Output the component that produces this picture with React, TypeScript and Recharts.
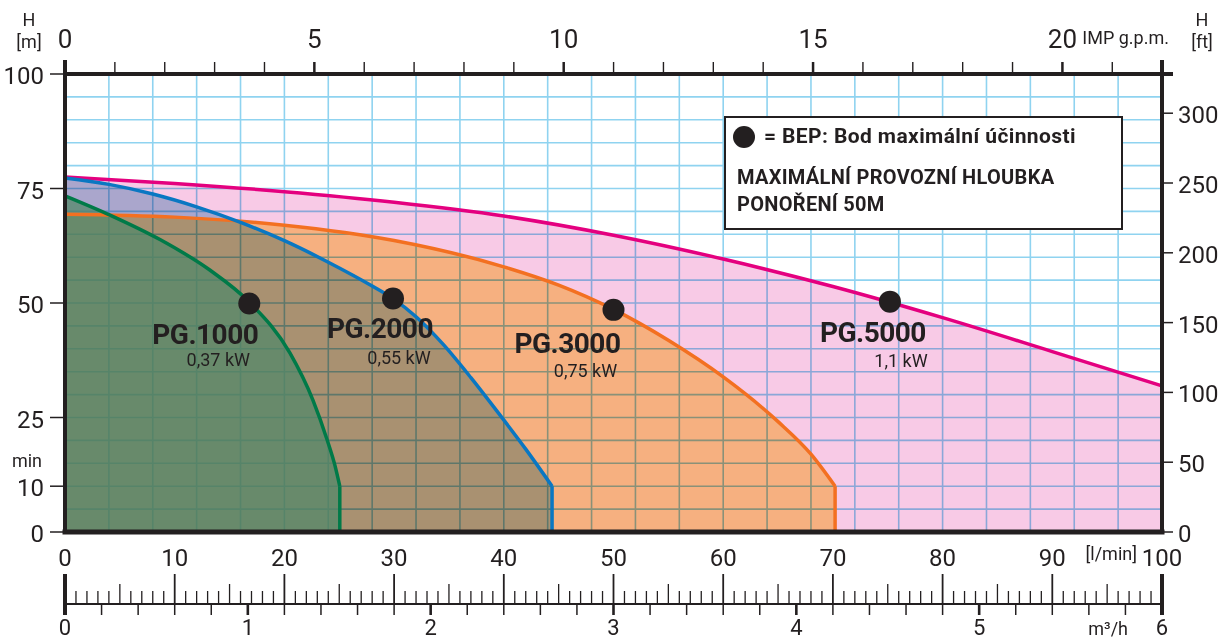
import React from "react";
import {
  ComposedChart,
  Area,
  Line,
  Scatter,
  XAxis,
  YAxis,
  CartesianGrid,
  Legend,
} from "recharts";

// pump names and motor power
const pumps = ["PG.1000", "PG.2000", "PG.3000", "PG.5000"];
const powers = ["0,37 kW", "0,55 kW", "0,75 kW", "1,1 kW"];

// Q [l/min] / H [m] (down to the 10 m minimum level)
const pg1000Q = [0, 4.1, 8.7, 13.2, 16.8, 20.5, 22.6, 23.9, 24.6, 25.05];
const pg1000H = [73.4, 69.2, 63.8, 57.2, 50.2, 39.1, 28.8, 20.1, 14.6, 10];

const pg2000Q = [0, 4, 8, 12, 16, 20, 24, 28, 30, 32, 34.5, 37, 39.5, 42, 44.4];
const pg2000H = [77.3, 75.9, 73.8, 71.0, 67.6, 63.6, 58.9, 53.7, 50.8, 47.0, 40.9, 33.7, 26.0, 18.1, 10];

const pg3000Q = [0, 10, 20, 30, 40, 45, 50, 55, 60, 65, 68, 70.2];
const pg3000H = [69.4, 68.75, 67.0, 63.65, 57.9, 53.9, 48.6, 41.85, 33.85, 24.1, 17.0, 10];

const pg5000Q = [0, 10, 20, 30, 40, 50, 60, 70, 80, 90, 100];
const pg5000H = [77.5, 76.1, 74.3, 72.0, 69.0, 64.8, 59.6, 53.6, 46.8, 39.4, 31.9];

// best efficiency points
const bepQ = [16.8, 29.9, 50.0, 75.2];
const bepH = [49.9, 51.0, 48.5, 50.3];

// axis ticks
const lpmTicks = [0, 10, 20, 30, 40, 50, 60, 70, 80, 90, 100];
const mTicks = [0, 10, 25, 50, 75, 100];
const ftTicks = [0, 50, 100, 150, 200, 250, 300];
const gridQ = [4, 8, 12, 16, 20, 24, 28, 32, 36, 40, 44, 48, 52, 56, 60, 64, 68, 72, 76, 80, 84, 88, 92, 96];
const gridH = [5, 10, 15, 20, 25, 30, 35, 40, 45, 50, 55, 60, 65, 70, 75, 80, 85, 90, 95];

const L_PER_GPM = 4.54609;
const GPM_MAX = 100 / L_PER_GPM;
const FT_MAX = 100 * 3.28084;
const gpmTicks = [...Array.from({ length: 22 }, (_, i) => i), GPM_MAX];

// ruler below: one tick per l/min above the line, one per 0.2 m3/h below it
const rulerTicks = (() => {
  const seen = new Map<number, number>();
  for (let l = 0; l <= 100; l++) seen.set(Math.round(l * 600), (l * 6) / 100);
  for (let k = 0; k <= 30; k++) {
    const key = Math.round(k * 2000);
    if (!seen.has(key)) seen.set(key, (k * 6) / 30);
  }
  return [...seen.values()].sort((a, b) => a - b);
})();

const zip = (q: number[], h: number[]) => q.map((v, i) => ({ q: v, h: h[i] }));
const pg1000 = zip(pg1000Q, pg1000H);
const pg2000 = zip(pg2000Q, pg2000H);
const pg3000 = zip(pg3000Q, pg3000H);
const pg5000 = zip(pg5000Q, pg5000H);
// vertical drop from the last point of each curve to H = 0
const drop = (d: { q: number; h: number }[]) => {
  const last = d[d.length - 1];
  return [last, { q: last.q, h: 0 }];
};
const bep = bepQ.map((q, i) => ({ q, h: bepH[i], name: pumps[i], power: powers[i] }));

const INK = "#231f20";
const FONT = "Roboto, 'DejaVu Sans', sans-serif";

const series = [
  { data: pg5000, fill: "#f8cae6", stroke: "#e4007f", mix: true },
  { data: pg3000, fill: "#fdde8e", stroke: "#f37021", mix: true },
  { data: pg2000, fill: "#afd2e2", stroke: "#0a77c2", mix: true },
  { data: pg1000, fill: "#53886a", stroke: "#007a48", mix: false },
];

// label placement relative to each BEP dot
const nameOffset = [[-44, 31], [-13, 30], [-46, 34], [-17, 31]];
const powerOffset = [[-31, 56], [6, 59], [-28, 61], [11, 59]];

const TopTick = (p: any) => {
  const { x, y, payload } = p;
  const v = payload.value;
  if (v > 21.5) {
    return (
      <g>
        <line x1={x} x2={x} y1={y - 14} y2={y} stroke={INK} strokeWidth={4} />
        <line x1={x} x2={x + 11} y1={y} y2={y} stroke={INK} strokeWidth={4} />
      </g>
    );
  }
  const major = v % 5 === 0;
  return (
    <g>
      <line
        x1={x}
        x2={x}
        y1={v === 0 ? y - 14 : y - 12}
        y2={y}
        stroke={INK}
        strokeWidth={v === 0 ? 4 : major ? 2.5 : 1.4}
      />
      {major && (
        <text x={x} y={y - 35} textAnchor="middle" dominantBaseline="central" fontSize={26} fill={INK}>
          {v}
        </text>
      )}
    </g>
  );
};

const LeftTick = (p: any) => {
  const { x, y, payload } = p;
  const v = payload.value;
  return (
    <g>
      <line x1={x - 15} x2={x - 2} y1={y} y2={y} stroke={INK} strokeWidth={1.5} />
      <text x={x - 21} y={y + 2} textAnchor="end" dominantBaseline="central" fontSize={24} fill={INK}>
        {v}
      </text>
      {v === 10 && (
        <text x={x - 38} y={y - 26} textAnchor="middle" dominantBaseline="central" fontSize={18} fill={INK}>
          min
        </text>
      )}
    </g>
  );
};

const RightTick = (p: any) => {
  const { x, y, payload } = p;
  return (
    <g>
      <line x1={x} x2={x + 11} y1={y} y2={y} stroke={INK} strokeWidth={1.5} />
      <text x={x + 16} y={y + 2} textAnchor="start" dominantBaseline="central" fontSize={24} fill={INK}>
        {payload.value}
      </text>
    </g>
  );
};

const LpmTick = (p: any) => {
  const { x, y, payload } = p;
  return (
    <text x={x} y={y + 26} textAnchor="middle" dominantBaseline="central" fontSize={24} fill={INK}>
      {payload.value}
    </text>
  );
};

const RulerTick = (p: any) => {
  const { x, y, payload } = p;
  const v = payload.value;
  const l = (v * 100) / 6;
  const m = v / 0.2;
  const isL = Math.abs(l - Math.round(l)) < 1e-6;
  const isM = Math.abs(m - Math.round(m)) < 1e-6;
  const lr = Math.round(l);
  const mr = Math.round(m);
  const end = isL && (lr === 0 || lr === 100);
  const up = isL ? (lr % 10 === 0 ? 30 : lr % 5 === 0 ? 20 : 13) : 0;
  return (
    <g>
      {isL && (
        <line
          x1={x}
          x2={x}
          y1={y - up}
          y2={y}
          stroke={INK}
          strokeWidth={end ? 4 : lr % 10 === 0 ? 1.8 : 1.3}
        />
      )}
      {(isM || end) && (
        <line
          x1={x}
          x2={x}
          y1={y}
          y2={y + 11}
          stroke={INK}
          strokeWidth={end ? 4 : mr % 5 === 0 ? 2.6 : 1.5}
        />
      )}
      {isM && mr % 5 === 0 && (
        <text x={x} y={y + 23} textAnchor="middle" dominantBaseline="central" fontSize={22} fill={INK}>
          {mr / 5}
        </text>
      )}
    </g>
  );
};

const BepShape = (p: any) => {
  const { cx, cy, payload } = p;
  const i = pumps.indexOf(payload.name);
  return (
    <g>
      <circle cx={cx} cy={cy} r={11} fill={INK} />
      <text
        x={cx + nameOffset[i][0]}
        y={cy + nameOffset[i][1]}
        textAnchor="middle"
        dominantBaseline="central"
        fontSize={28}
        fontWeight={700}
        letterSpacing={-0.5}
        fill={INK}
      >
        {payload.name}
      </text>
      <text
        x={cx + powerOffset[i][0]}
        y={cy + powerOffset[i][1]}
        textAnchor="middle"
        dominantBaseline="central"
        fontSize={18}
        fill={INK}
      >
        {payload.power}
      </text>
    </g>
  );
};

const BepLegend = () => (
  <div
    style={{
      position: "relative",
      width: 399,
      height: 114,
      boxSizing: "border-box",
      border: `2.5px solid ${INK}`,
      background: "#fff",
      color: INK,
      fontWeight: 700,
      fontFamily: FONT,
      whiteSpace: "nowrap",
    }}
  >
    <div
      style={{
        position: "absolute",
        left: 7,
        top: 8,
        width: 22,
        height: 22,
        borderRadius: 11,
        background: INK,
      }}
    />
    <div style={{ position: "absolute", left: 38, top: 6, fontSize: 21, lineHeight: "24px", letterSpacing: 0.4 }}>
      = BEP: Bod maximální účinnosti
    </div>
    <div style={{ position: "absolute", left: 11, top: 47, fontSize: 20, lineHeight: "24px", letterSpacing: 0.3 }}>
      MAXIMÁLNÍ PROVOZNÍ HLOUBKA
    </div>
    <div style={{ position: "absolute", left: 11, top: 74, fontSize: 20, lineHeight: "24px", letterSpacing: 0.3 }}>
      PONOŘENÍ 50M
    </div>
  </div>
);

const unitText = (x: number, y: number, s: string, anchor = "middle") => (
  <text x={x} y={y} textAnchor={anchor} dominantBaseline="central" fontSize={18} fill={INK}>
    {s}
  </text>
);

export default function App() {
  const common = { xAxisId: "lpm", yAxisId: "m", isAnimationActive: false };
  return (
    <div
      style={{
        position: "absolute",
        left: 0,
        top: 0,
        width: 1226,
        height: 640,
        background: "#fff",
        fontFamily: FONT,
      }}
    >
      <style>{`.mix, .mix .recharts-area-area { mix-blend-mode: multiply; }`}</style>
      <ComposedChart
        width={1226}
        height={640}
        data={pg5000}
        margin={{ top: 0, right: 0, bottom: 0, left: 0 }}
      >
        <XAxis
          xAxisId="gpm"
          orientation="top"
          type="number"
          dataKey={(d: any) => d.q / L_PER_GPM}
          domain={[0, GPM_MAX]}
          allowDataOverflow
          ticks={gpmTicks}
          interval={0}
          height={74}
          tickSize={0}
          tickMargin={0}
          tickLine={false}
          tick={TopTick}
          axisLine={{ stroke: INK, strokeWidth: 4, strokeLinecap: "square" }}
          label={(p: any) =>
            unitText(p.viewBox.x + p.viewBox.width + 7, 37, "IMP g.p.m.", "end")
          }
        />
        <XAxis
          xAxisId="lpm"
          dataKey="q"
          type="number"
          domain={[0, 100]}
          ticks={lpmTicks}
          interval={0}
          height={72}
          tickSize={0}
          tickMargin={0}
          tickLine={false}
          tick={LpmTick}
          axisLine={{ stroke: INK, strokeWidth: 5, strokeLinecap: "square" }}
          label={(p: any) =>
            unitText(p.viewBox.x + p.viewBox.width - 25, p.viewBox.y + 21, "[l/min]", "end")
          }
        />
        <XAxis
          xAxisId="m3h"
          type="number"
          dataKey={(d: any) => (d.q * 6) / 100}
          domain={[0, 6]}
          allowDataOverflow
          ticks={rulerTicks}
          interval={0}
          height={36}
          tickSize={0}
          tickMargin={0}
          tickLine={false}
          tick={RulerTick}
          axisLine={{ stroke: INK, strokeWidth: 2 }}
          label={(p: any) =>
            unitText(p.viewBox.x + p.viewBox.width - 34, p.viewBox.y + 24, "m³/h", "end")
          }
        />
        <YAxis
          yAxisId="m"
          orientation="left"
          type="number"
          domain={[0, 100]}
          ticks={mTicks}
          interval={0}
          width={65}
          tickSize={0}
          tickMargin={0}
          tickLine={false}
          tick={LeftTick}
          axisLine={{ stroke: INK, strokeWidth: 4, strokeLinecap: "square" }}
          label={(p: any) => (
            <g>
              {unitText(p.viewBox.x + 29, p.viewBox.y - 55, "H")}
              {unitText(p.viewBox.x + 29, p.viewBox.y - 33, "[m]")}
            </g>
          )}
        />
        <YAxis
          yAxisId="ft"
          orientation="right"
          type="number"
          domain={[0, FT_MAX]}
          allowDataOverflow
          ticks={ftTicks}
          interval={0}
          width={64}
          tickSize={0}
          tickMargin={0}
          tickLine={false}
          tick={RightTick}
          axisLine={{ stroke: INK, strokeWidth: 4, strokeLinecap: "square" }}
          label={(p: any) => (
            <g>
              {unitText(p.viewBox.x + 40, p.viewBox.y - 55, "H")}
              {unitText(p.viewBox.x + 40, p.viewBox.y - 33, "[ft]")}
            </g>
          )}
        />
        <XAxis xAxisId="grid" hide dataKey="q" type="number" domain={[0, 100]} allowDataOverflow ticks={gridQ} interval={0} height={0} />
        <YAxis yAxisId="gridY" hide type="number" domain={[0, 100]} allowDataOverflow ticks={gridH} interval={0} width={0} />
        <CartesianGrid xAxisId="grid" yAxisId="gridY" stroke="#8fd3f0" strokeWidth={1.6} />

        {series.map((s, i) => (
          <Area
            key={`a${i}`}
            {...common}
            className={s.mix ? "mix" : undefined}
            data={s.data}
            dataKey="h"
            type="monotone"
            fill={s.fill}
            fillOpacity={s.mix ? 1 : 0.75}
            stroke="none"
          />
        ))}
        {series.map((s, i) => (
          <Line key={`l${i}`} {...common} data={s.data} dataKey="h" type="monotone" stroke={s.stroke} strokeWidth={3.5} dot={false} />
        ))}
        {series.map((s, i) => (
          <Line key={`d${i}`} {...common} data={drop(s.data)} dataKey="h" type="linear" stroke={s.stroke} strokeWidth={3.5} dot={false} />
        ))}

        <Scatter {...common} data={bep} dataKey="h" shape={BepShape} />

        <Legend
          layout="vertical"
          align="center"
          verticalAlign="middle"
          wrapperStyle={{ position: "absolute", left: 724, top: 116, width: 399, height: 114, margin: 0 }}
          content={() => <BepLegend />}
        />
      </ComposedChart>
    </div>
  );
}
